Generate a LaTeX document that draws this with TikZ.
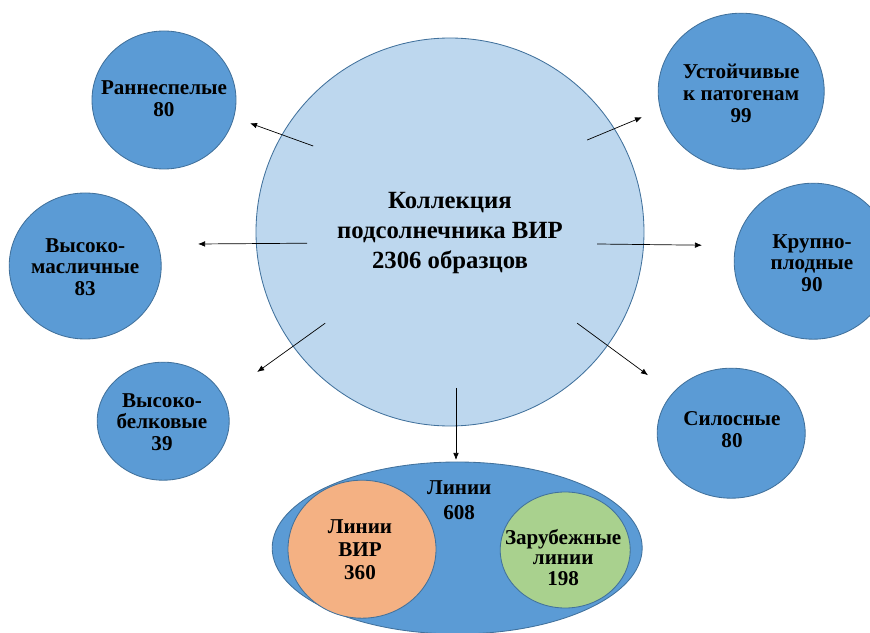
\documentclass[tikz,border=0pt]{standalone}
\usepackage{fontspec}
\setmainfont{Liberation Serif}
\usetikzlibrary{arrows.meta,positioning,shapes.geometric}
\definecolor{satblue}{HTML}{5B9BD5}
\definecolor{edgeblue}{HTML}{41719C}
\definecolor{coreblue}{HTML}{BDD7EE}
\definecolor{virorange}{HTML}{F4B183}
\definecolor{forgreen}{HTML}{A9D18E}

\begin{document}
\begin{tikzpicture}[
    group/.style={ellipse,draw=edgeblue,line width=0.6pt,fill=satblue,inner sep=0pt},
    lbl/.style={align=center,font=\bfseries\fontsize{15}{15.5}\selectfont,inner sep=0pt},
    link/.style={-{Latex[length=5pt,width=4pt]},line width=0.5pt}
  ]
    \useasboundingbox (0,0) rectangle (21.75,-15.825);

    % Central circle (whole collection)
    \node[group,fill=coreblue,minimum width=9.7cm,minimum height=9.7cm] (coll) at (11.25,-5.80) {};
    \node[lbl,font=\bfseries\fontsize{17.6}{21.3}\selectfont] (collt) at (11.25,-5.83)
      {Коллекция\\подсолнечника ВИР\\2306 образцов};

    % Groups round the collection
    \node[group,minimum width=3.6cm,minimum height=3.45cm] (early) at (4.10,-2.50) {};
    \node[lbl] (earlyt) at (4.10,-2.46) {Раннеспелые\\80};

    \node[group,minimum width=4.15cm,minimum height=3.9cm] (resist) at (18.53,-2.28) {};
    \node[lbl] (resistt) at (18.53,-2.33) {Устойчивые\\к патогенам\\99};

    \node[group,minimum width=3.8cm,minimum height=3.65cm] (oil) at (2.13,-6.65) {};
    \node[lbl] (oilt) at (2.13,-6.68) {Высоко-\\масличные\\83};

    \node[group,minimum width=3.95cm,minimum height=3.9cm] (large) at (20.33,-6.53) {};
    \node[lbl] (larget) at (20.30,-6.58) {Крупно-\\плодные\\90};

    \node[group,minimum width=3.3cm,minimum height=2.95cm] (protein) at (4.08,-10.53) {};
    \node[lbl] (proteint) at (4.05,-10.55) {Высоко-\\белковые\\39};

    \node[group,minimum width=3.7cm,minimum height=3.25cm] (silage) at (18.28,-10.83) {};
    \node[lbl] (silaget) at (18.30,-10.75) {Силосные\\80};

    % Lines and their two parts
    \node[group,minimum width=9.25cm,minimum height=4.3cm] (lines) at (11.43,-13.70) {};
    \node[lbl,font=\bfseries\fontsize{15}{17.7}\selectfont] (linest) at (11.48,-12.50) {Линии\\608};
    \node[group,fill=virorange,minimum width=3.7cm,minimum height=3.45cm] (vir) at (9.05,-13.73) {};
    \node[lbl,font=\bfseries\fontsize{15}{16.3}\selectfont] (virt) at (9.00,-13.75) {Линии\\ВИР\\360};
    \node[group,fill=forgreen,minimum width=3.25cm,minimum height=2.9cm] (foreign) at (14.13,-13.75) {};
    \node[lbl,font=\bfseries\fontsize{15}{14.6}\selectfont] (foreignt) at (14.08,-13.93) {Зарубежные\\линии\\198};

    % Arrow ends
    \coordinate (s1) at (7.83,-3.65);   \coordinate (e1) at (6.25,-3.08);
    \coordinate (s2) at (14.68,-3.50);  \coordinate (e2) at (16.05,-2.93);
    \coordinate (s3) at (7.68,-6.08);   \coordinate (e3) at (4.95,-6.10);
    \coordinate (s4) at (14.93,-6.10);  \coordinate (e4) at (17.55,-6.13);
    \coordinate (s5) at (8.13,-8.08);   \coordinate (e5) at (6.43,-9.30);
    \coordinate (s6) at (14.43,-8.08);  \coordinate (e6) at (16.20,-9.38);
    \coordinate (s7) at (11.40,-9.70);  \coordinate (e7) at (11.40,-11.50);

    % Arrows
    \foreach \i in {1,...,7}
      \draw[link] (s\i) -- (e\i);
  \end{tikzpicture}
\end{document}
